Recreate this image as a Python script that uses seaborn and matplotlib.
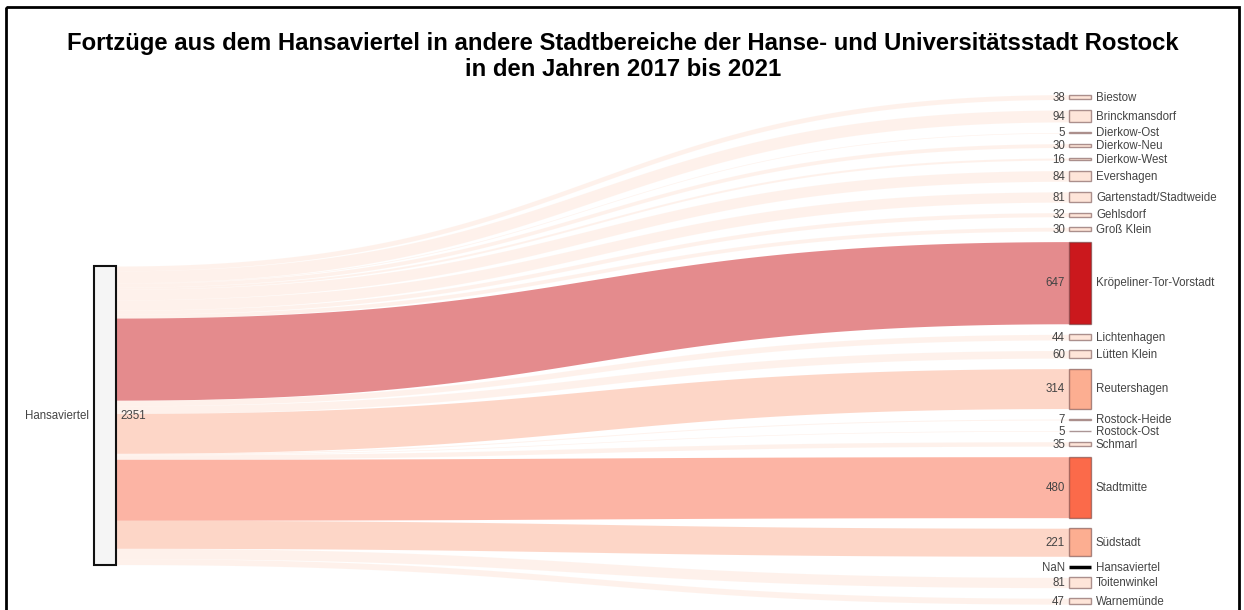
import numpy as np
import matplotlib
matplotlib.use("Agg")
import matplotlib.pyplot as plt
from matplotlib.patches import Rectangle
import seaborn as sns

# data
source = "Hansaviertel"
source_total = 2351
targets = ["Biestow", "Brinckmansdorf", "Dierkow-Ost", "Dierkow-Neu", "Dierkow-West",
           "Evershagen", "Gartenstadt/Stadtweide", "Gehlsdorf", "Groß Klein",
           "Kröpeliner-Tor-Vorstadt", "Lichtenhagen", "Lütten Klein", "Reutershagen",
           "Rostock-Heide", "Rostock-Ost", "Schmarl", "Stadtmitte", "Südstadt",
           "Hansaviertel", "Toitenwinkel", "Warnemünde"]
values = [38, 94, 5, 30, 16, 84, 81, 32, 30, 647, 44, 60, 314, 7, 5, 35, 480, 221,
          np.nan, 81, 47]
bins = [100, 400, 600]

title = ("Fortzüge aus dem Hansaviertel in andere Stadtbereiche der Hanse- und Universitätsstadt Rostock\n"
         "in den Jahren 2017 bis 2021")

sns.set_theme(style="white")
plt.rcParams["font.family"] = ["Liberation Sans", "DejaVu Sans"]
palette = sns.color_palette(["#fee5d9", "#fcae91", "#fb6a4a", "#cb181d"])

# layout (pixels)
W, H = 1244, 610
scale = 0.127
pad = 10.55
right_top = 94.6
left_top = 266
xl, xr, nw = 94, 1069, 22
txt = "#444444"

fig = plt.figure(figsize=(W / 100, H / 100), dpi=100)
ax = fig.add_axes([0, 0, 1, 1])
ax.set_xlim(0, W)
ax.set_ylim(H, 0)
ax.axis("off")

# frame
ax.add_patch(Rectangle((6, 7), 1233, 700, fill=False, edgecolor="black", lw=2))

ax.text(623, 56.5, title, ha="center", va="center", fontsize=17.2, fontweight="bold",
        linespacing=1.17, color="black")

# source node
hs = source_total * scale
ax.add_patch(Rectangle((xl, left_top), nw, hs, facecolor="#f5f5f5", edgecolor="#111111", lw=1.5, zorder=3))
ax.text(xl - 5, left_top + hs / 2 + 0.5, source, ha="right", va="center", fontsize=8.3, color=txt)
ax.text(xl + nw + 4, left_top + hs / 2 + 0.5, str(source_total), ha="left", va="center", fontsize=8.3, color=txt)

t = np.linspace(0, 1, 200)
x0, x1 = xl + nw, xr
xm = (x0 + x1) / 2
xs = (1 - t) ** 3 * x0 + 3 * (1 - t) ** 2 * t * xm + 3 * (1 - t) * t ** 2 * xm + t ** 3 * x1
s = 3 * t ** 2 - 2 * t ** 3

y_right = right_top
y_left = left_top
for name, v in zip(targets, values):
    if np.isnan(v):
        ax.hlines(y_right, xr, xr + nw, color="black", lw=2.5, zorder=3)
        label = "NaN"
        h = 0
    else:
        h = v * scale
        col = palette[int(np.digitize(v, bins))]
        ax.add_patch(Rectangle((xr, y_right), nw, h, facecolor=col,
                               edgecolor=(0.35, 0.18, 0.18, 0.5), lw=1.0, zorder=3))
        top = y_left + (y_right - y_left) * s
        ax.fill_between(xs, top, top + h, color=col, alpha=0.5, lw=0, zorder=1)
        y_left += h
        label = str(int(v))
    ymid = y_right + h / 2 + 0.7
    ax.text(xr - 4, ymid, label, ha="right", va="center", fontsize=8.3, color=txt)
    ax.text(xr + nw + 5, ymid, name, ha="left", va="center", fontsize=8.3, color=txt)
    y_right += h + pad

fig.savefig("out.png", dpi=100)
